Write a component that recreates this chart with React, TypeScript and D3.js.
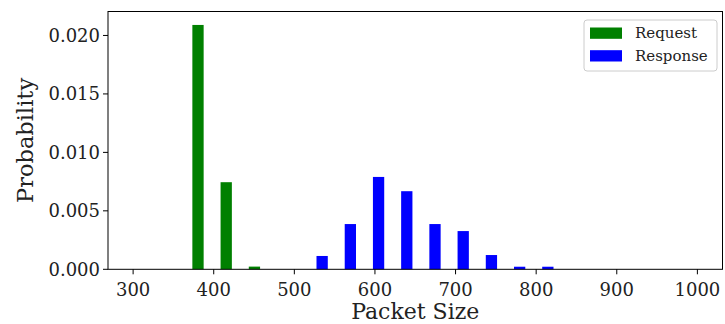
import React from "react";
import * as d3 from "d3";

const width = 725;
const height = 324;
const margin = { top: 11.5, right: 2.5, bottom: 54.7, left: 108 };

// histogram bin edges (20 bins, width 35)
const binEdges = [
  300, 335, 370, 405, 440, 475, 510, 545, 580, 615, 650, 685, 720, 755, 790,
  825, 860, 895, 930, 965, 1000,
];
const requestDensity = [
  0, 0, 0.0209, 0.00745, 0.00023, 0, 0, 0, 0, 0, 0, 0, 0, 0, 0, 0, 0, 0, 0, 0,
];
const responseDensity = [
  0, 0, 0, 0, 0, 0, 0.00114, 0.00387, 0.0079, 0.00668, 0.00387, 0.00327,
  0.00122, 0.00022, 0.00022, 0, 0, 0, 0, 0,
];
const seriesNames = ["Request", "Response"];
const seriesColors = ["green", "blue"];
const xTicks = [300, 400, 500, 600, 700, 800, 900, 1000];
const yTicks = [0, 0.005, 0.01, 0.015, 0.02];

const font = "DejaVu Serif";

const xScale = d3
  .scaleLinear()
  .domain([268.85, 1031.15])
  .range([margin.left, width - margin.right]);
const yScale = d3
  .scaleLinear()
  .domain([0, 0.02205])
  .range([height - margin.bottom, margin.top]);

const App = () => {
  const series = [requestDensity, responseDensity];
  const nx = series.length;
  const fmt = d3.format(".3f");
  const y0 = yScale(0);

  return (
    <svg
      width={width}
      height={height}
      style={{ position: "absolute", left: 0, top: 0, background: "white" }}
      fontFamily={font}
    >
      {series.map((vals, si) =>
        vals.map((v, i) => {
          const lo = binEdges[i];
          const hi = binEdges[i + 1];
          const tot = (hi - lo) * 0.8;
          const w = tot / nx;
          const center = (lo + hi) / 2 - 0.5 * tot * (1 - 1 / nx) + si * w;
          if (v <= 0) return null;
          return (
            <rect
              key={`${si}-${i}`}
              x={xScale(center - w / 2)}
              width={xScale(center + w / 2) - xScale(center - w / 2)}
              y={yScale(v)}
              height={y0 - yScale(v)}
              fill={seriesColors[si]}
            />
          );
        })
      )}

      {/* frame */}
      <rect
        x={margin.left}
        y={margin.top}
        width={width - margin.right - margin.left}
        height={height - margin.bottom - margin.top}
        fill="none"
        stroke="black"
        strokeWidth={1}
      />

      {/* x axis */}
      {xTicks.map((t) => (
        <g key={t} transform={`translate(${xScale(t)},${y0})`}>
          <line y2={5} stroke="black" />
          <text y={27} textAnchor="middle" fontSize={18} fill="#222">
            {t}
          </text>
        </g>
      ))}
      <text
        x={(margin.left + width - margin.right) / 2}
        y={319}
        textAnchor="middle"
        fontSize={22}
        fill="#222"
      >
        Packet Size
      </text>

      {/* y axis */}
      {yTicks.map((t) => (
        <g key={t} transform={`translate(${margin.left},${yScale(t)})`}>
          <line x2={-5} stroke="black" />
          <text
            x={-8}
            dy="0.36em"
            textAnchor="end"
            fontSize={18}
            fill="#222"
          >
            {fmt(t)}
          </text>
        </g>
      ))}
      <text
        transform={`translate(33,${(margin.top + height - margin.bottom) / 2}) rotate(-90)`}
        textAnchor="middle"
        fontSize={22.5}
        fill="#222"
      >
        Probability
      </text>

      {/* legend */}
      <rect
        x={584}
        y={20}
        width={133}
        height={51}
        rx={3}
        fill="white"
        fillOpacity={0.8}
        stroke="#cccccc"
      />
      {seriesNames.map((name, i) => (
        <g key={name} transform={`translate(590,${27.5 + i * 22.7})`}>
          <rect width={32} height={11.3} fill={seriesColors[i]} />
          <text x={45} y={10.5} fontSize={15} fill="#222">
            {name}
          </text>
        </g>
      ))}
    </svg>
  );
};

export default App;
